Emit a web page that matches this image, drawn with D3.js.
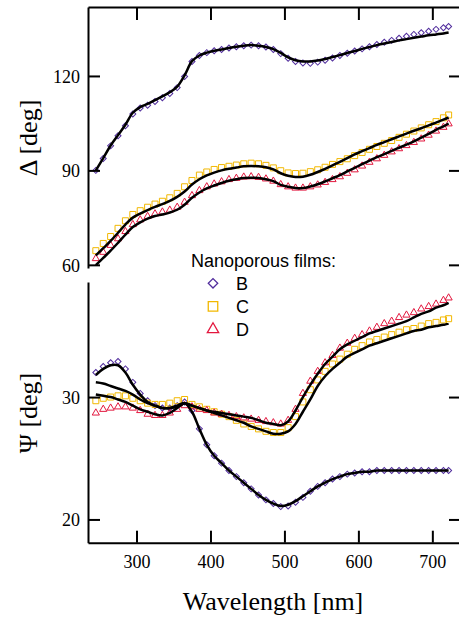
<!DOCTYPE html>
<html>
<head>
<meta charset="utf-8">
<title>Nanoporous films</title>
<script src="https://d3js.org/d3.v7.min.js"></script>
<style>
  body { margin: 0; background: #fff; }
  .axis path, .axis line { stroke: #000; stroke-width: 2; }
  .axis text { font-family: "Liberation Serif", "Times New Roman", serif; font-size: 18px; fill: #000; }
</style>
</head>
<body>
<div class="box"></div>
<script>
// wavelengths [nm]
var wl = [245, 255, 265, 275, 285, 295, 305, 315, 325, 335, 345, 355, 365, 375, 385, 395,
          405, 415, 425, 435, 445, 455, 465, 475, 485, 495, 505, 515, 525, 535, 545, 555,
          565, 575, 585, 595, 605, 615, 625, 635, 645, 655, 665, 675, 685, 695, 705, 715, 722];

// Delta [deg], measured
var deltaB = [90.0, 93.8, 97.8, 101.0, 104.2, 107.9, 109.8, 110.7, 111.9, 113.1, 114.4, 116.3, 119.8, 124.6, 126.5, 127.4,
              128.0, 128.4, 128.9, 129.3, 129.6, 129.8, 129.6, 129.2, 128.4, 127.1, 125.6, 124.6, 124.1, 124.0, 124.4, 125.0,
              125.7, 126.5, 127.2, 127.9, 128.6, 129.3, 130.0, 130.7, 131.3, 132.0, 132.6, 133.2, 133.7, 134.2, 134.8, 135.3, 135.7];
var deltaC = [64.5, 66.8, 69.0, 71.6, 74.0, 76.0, 77.2, 78.3, 79.3, 80.2, 81.3, 82.7, 84.8, 86.8, 88.5, 89.5,
              90.3, 90.9, 91.3, 91.7, 92.1, 92.3, 92.1, 91.6, 90.8, 89.9, 89.2, 89.0, 89.1, 89.6, 90.2, 91.0,
              91.9, 92.8, 93.7, 94.7, 95.7, 96.7, 97.6, 98.6, 99.5, 100.5, 101.5, 102.5, 103.5, 104.5, 105.5, 106.7, 107.6];
var deltaD = [62.0, 64.0, 66.2, 68.3, 70.6, 72.8, 74.3, 75.4, 76.2, 76.8, 77.4, 78.3, 79.9, 82.0, 83.6, 84.8,
              85.7, 86.4, 87.1, 87.5, 87.9, 88.0, 87.8, 87.3, 86.6, 85.5, 84.8, 84.4, 84.4, 84.8, 85.4, 86.2,
              87.1, 88.0, 89.1, 90.2, 91.4, 92.6, 93.7, 94.8, 95.9, 96.9, 97.9, 98.9, 100.0, 101.2, 102.5, 103.7, 104.8];

// Delta [deg], fitted model
var fitDeltaB = [90.0, 93.9, 97.9, 101.2, 104.5, 108.3, 110.1, 111.1, 112.3, 113.5, 114.8, 116.6, 120.2, 124.7, 126.5, 127.4,
                 128.0, 128.4, 128.9, 129.3, 129.6, 129.8, 129.6, 129.2, 128.5, 127.3, 125.9, 125.0, 124.6, 124.6, 124.9, 125.4,
                 126.0, 126.6, 127.3, 127.9, 128.6, 129.2, 129.8, 130.3, 130.8, 131.3, 131.7, 132.1, 132.5, 132.9, 133.2, 133.5, 133.8];
var fitDeltaC = [63.0, 65.3, 67.6, 70.2, 72.8, 75.0, 76.3, 77.4, 78.4, 79.3, 80.3, 81.6, 83.3, 85.5, 87.2, 88.4,
                 89.3, 90.0, 90.5, 90.9, 91.3, 91.4, 91.3, 91.0, 90.3, 89.1, 88.3, 87.9, 88.0, 88.6, 89.5, 90.5,
                 91.6, 92.7, 93.9, 95.1, 96.1, 97.1, 98.1, 99.0, 99.9, 100.8, 101.7, 102.6, 103.4, 104.3, 105.2, 106.1, 106.8];
var fitDeltaD = [59.9, 62.2, 64.5, 67.0, 69.6, 72.0, 73.5, 74.7, 75.5, 76.0, 76.6, 77.5, 79.1, 81.3, 83.0, 84.3,
                 85.2, 86.0, 86.7, 87.2, 87.6, 87.7, 87.6, 87.2, 86.6, 85.4, 84.8, 84.4, 84.4, 84.9, 85.6, 86.5,
                 87.5, 88.5, 89.7, 90.8, 92.0, 93.1, 94.2, 95.2, 96.2, 97.2, 98.2, 99.2, 100.4, 101.6, 102.9, 104.0, 104.9];

// Psi [deg], measured
var psiB = [32.0, 32.5, 32.8, 32.9, 32.3, 31.2, 30.3, 29.7, 29.3, 29.1, 29.1, 29.3, 29.6, 28.9, 27.4, 26.1,
            25.2, 24.6, 24.0, 23.5, 23.0, 22.5, 22.0, 21.6, 21.3, 21.05, 21.1, 21.4, 21.8, 22.3, 22.7, 23.0,
            23.3, 23.5, 23.7, 23.8, 23.9, 23.9, 24.0, 24.0, 24.0, 24.0, 24.0, 24.0, 24.0, 24.0, 24.0, 24.0, 24.0];
var psiC = [29.7, 29.9, 30.0, 30.1, 30.1, 29.9, 29.7, 29.5, 29.4, 29.4, 29.5, 29.7, 29.8, 29.4, 29.2, 29.0,
            28.8, 28.6, 28.4, 28.1, 27.8, 27.6, 27.4, 27.2, 27.1, 27.1, 27.5, 28.4, 29.6, 30.6, 31.4, 32.1,
            32.7, 33.1, 33.5, 33.9, 34.2, 34.5, 34.7, 34.9, 35.1, 35.3, 35.5, 35.6, 35.8, 36.0, 36.1, 36.3, 36.4];
var psiD = [28.7, 29.0, 29.1, 29.2, 29.2, 29.1, 28.9, 28.6, 28.5, 28.5, 28.7, 29.0, 29.3, 29.2, 29.0, 28.9,
            28.7, 28.6, 28.5, 28.4, 28.3, 28.2, 28.1, 28.0, 27.9, 27.8, 28.1, 29.0, 30.3, 31.3, 32.1, 32.8,
            33.4, 34.0, 34.4, 34.8, 35.1, 35.4, 35.7, 36.0, 36.2, 36.5, 36.7, 36.9, 37.2, 37.4, 37.6, 37.9, 38.1];

// Psi [deg], fitted model
var fitPsiB = [31.8, 32.3, 32.6, 32.6, 32.0, 31.0, 30.2, 29.6, 29.3, 29.1, 29.1, 29.3, 29.5, 28.8, 27.4, 26.1,
               25.2, 24.6, 24.0, 23.5, 23.0, 22.5, 22.0, 21.6, 21.3, 21.1, 21.2, 21.5, 21.9, 22.3, 22.7, 23.0,
               23.3, 23.5, 23.7, 23.8, 23.9, 23.9, 24.0, 24.0, 24.0, 24.0, 24.0, 24.0, 24.0, 24.0, 24.0, 24.0, 24.0];
var fitPsiC = [30.2, 30.1, 30.0, 29.8, 29.6, 29.3, 29.0, 28.8, 28.6, 28.5, 28.7, 29.1, 29.5, 29.3, 29.1, 28.9,
               28.7, 28.5, 28.3, 28.1, 27.9, 27.6, 27.4, 27.2, 27.0, 27.0, 27.2, 27.8, 28.8, 29.8, 30.9, 31.7,
               32.3, 32.8, 33.3, 33.6, 33.9, 34.2, 34.4, 34.6, 34.8, 35.0, 35.2, 35.4, 35.5, 35.7, 35.8, 35.9, 36.0];
var fitPsiD = [31.2, 31.1, 30.9, 30.7, 30.5, 30.2, 29.8, 29.5, 29.3, 29.1, 29.1, 29.2, 29.5, 29.3, 29.1, 28.9,
               28.8, 28.7, 28.6, 28.5, 28.4, 28.3, 28.1, 27.9, 27.8, 27.7, 28.0, 28.9, 30.0, 31.0, 31.9, 32.7,
               33.3, 33.9, 34.3, 34.6, 34.9, 35.2, 35.4, 35.6, 35.8, 36.0, 36.2, 36.5, 36.8, 37.0, 37.3, 37.5, 37.7];

var samples = ["B", "C", "D"];
var colors = {B: "#512d9d", C: "#f2b800", D: "#e3173e"};

var width = 459, height = 619;
var left = 88, right = 460;

var svg = d3.select("div.box").append("svg")
    .attr("width", width)
    .attr("height", height);

var x = d3.scaleLinear().domain([234.4, 737.4]).range([left, right]);

var symbolOf = {
    B: function(s) { return d3.symbol().type(d3.symbolSquare).size(s * 0.5)(); },
    C: function(s) { return d3.symbol().type(d3.symbolSquare).size(s)(); },
    D: function(s) { return d3.symbol().type(d3.symbolTriangle).size(s * 0.62)(); }
};

function drawPanel(cfg) {
    var y = d3.scaleLinear().domain(cfg.domain).range(cfg.range);
    var g = svg.append("g");

    // markers
    samples.forEach(function(k) {
        var path = symbolOf[k](36);
        g.append("g").selectAll("path")
            .data(cfg.data[k])
            .enter().append("path")
            .attr("d", path)
            .attr("transform", function(d, i) {
                return "translate(" + x(wl[i]) + "," + y(d) + ")" + (k == "B" ? " rotate(45)" : "");
            })
            .attr("fill", "none")
            .attr("stroke", colors[k])
            .attr("stroke-width", 1);
    });

    // fits
    var line = d3.line()
        .x(function(d, i) { return x(wl[i]); })
        .y(function(d) { return y(d); })
        .curve(d3.curveCatmullRom.alpha(0.5));
    samples.forEach(function(k) {
        g.append("path")
            .attr("d", line(cfg.fit[k]))
            .attr("fill", "none")
            .attr("stroke", "#000")
            .attr("stroke-width", 2.5);
    });

    // axes
    var yLeft = g.append("g").attr("class", "axis").attr("transform", "translate(" + left + ",0)");
    yLeft.call(d3.axisLeft(y).tickValues(cfg.minor).tickSize(-5).tickSizeOuter(0).tickFormat(""));
    yLeft.call(d3.axisLeft(y).tickValues(cfg.major).tickSize(-12).tickSizeOuter(0).tickPadding(8).tickFormat(d3.format("d")));
    yLeft.selectAll("text").attr("dy", "0.36em");

    var yRight = g.append("g").attr("class", "axis").attr("transform", "translate(" + right + ",0)");
    yRight.call(d3.axisRight(y).tickValues(cfg.minor).tickSize(-5).tickSizeOuter(0).tickFormat(""));
    yRight.call(d3.axisRight(y).tickValues(cfg.major).tickSize(-11).tickSizeOuter(0).tickFormat(""));

    g.append("text")
        .attr("transform", "translate(37," + cfg.labelY + ") rotate(-90)")
        .attr("text-anchor", "middle")
        .style("font-family", "'Liberation Serif', 'Times New Roman', serif")
        .style("font-size", "26px")
        .text(cfg.label);
    return y;
}

drawPanel({
    domain: [59, 141.9], range: [268, 7],
    major: [60, 90, 120], minor: [70, 80, 100, 110, 130, 140],
    data: {B: deltaB, C: deltaC, D: deltaD},
    fit: {B: fitDeltaB, C: fitDeltaC, D: fitDeltaD},
    label: "\u0394 [deg]", labelY: 138
});

drawPanel({
    domain: [18.1, 39.4], range: [542.7, 282],
    major: [20, 30], minor: [25, 35],
    data: {B: psiB, C: psiC, D: psiD},
    fit: {B: fitPsiB, C: fitPsiC, D: fitPsiD},
    label: "\u03A8 [deg]", labelY: 413
});

// x axes: ticks on top frame and bottom axis
var majorX = [300, 400, 500, 600, 700];
var minorX = [250, 350, 450, 550, 650];

var xTop = svg.append("g").attr("class", "axis").attr("transform", "translate(0,7)");
xTop.call(d3.axisTop(x).tickValues(minorX).tickSize(-6).tickSizeOuter(0).tickFormat(""));
xTop.call(d3.axisTop(x).tickValues(majorX).tickSize(-13).tickSizeOuter(0).tickFormat(""));

var xBottom = svg.append("g").attr("class", "axis").attr("transform", "translate(0,542.7)");
xBottom.call(d3.axisBottom(x).tickValues(minorX).tickSize(-5).tickSizeOuter(0).tickFormat(""));
xBottom.call(d3.axisBottom(x).tickValues(majorX).tickSize(-12).tickSizeOuter(0).tickPadding(13).tickFormat(d3.format("d")));

svg.append("text")
    .attr("x", 273)
    .attr("y", 610)
    .attr("text-anchor", "middle")
    .style("font-family", "'Liberation Serif', 'Times New Roman', serif")
    .style("font-size", "26px")
    .text("Wavelength [nm]");

// legend
var legend = svg.append("g").style("font-family", "'Liberation Sans', Arial, sans-serif");
legend.append("text")
    .attr("x", 191)
    .attr("y", 267)
    .style("font-size", "18px")
    .text("Nanoporous films:");
samples.forEach(function(k, i) {
    var cy = 283.3 + i * 23;
    legend.append("path")
        .attr("d", symbolOf[k](90))
        .attr("transform", "translate(213," + cy + ")" + (k == "B" ? " rotate(45)" : ""))
        .attr("fill", "none")
        .attr("stroke", colors[k])
        .attr("stroke-width", 1.3);
    legend.append("text")
        .attr("x", 236)
        .attr("y", cy + 6.3)
        .style("font-size", "18px")
        .text(k);
});
</script>
</body>
</html>
